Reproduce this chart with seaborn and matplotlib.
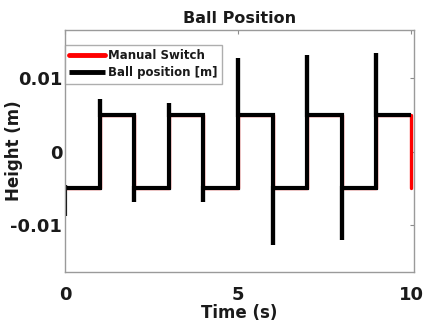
import matplotlib
matplotlib.use("Agg")
import matplotlib.pyplot as plt
import seaborn as sns
import pandas as pd

# Manual switch (square wave) - steps at integer seconds
manual_t = [0, 1, 2, 3, 4, 5, 6, 7, 8, 9, 10]
manual_y = [-0.005, 0.005, -0.005, 0.005, -0.005, 0.005, -0.005, 0.005, -0.005, 0.005, -0.005]

# Ball position with overshoot spikes at each switch
ball_t = [0, 0, 0, 1, 1, 1, 2, 2, 2, 3, 3, 3, 4, 4, 4,
          5, 5, 5, 6, 6, 6, 7, 7, 7, 8, 8, 8, 9, 9, 9, 10]
ball_y = [-0.0088, -0.0045, -0.005, -0.005, 0.0072, 0.005, 0.005, -0.0068, -0.005,
          -0.005, 0.0067, 0.005, 0.005, -0.0069, -0.005,
          -0.005, 0.0128, 0.005, 0.005, -0.0127, -0.005,
          -0.005, 0.0132, 0.005, 0.005, -0.0120, -0.005,
          -0.005, 0.0134, 0.005, 0.005]

x_ticks = [0, 5, 10]
x_labels = ["0", "5", "10"]
y_ticks = [-0.01, 0, 0.01]
y_labels = ["-0.01", "0", "0.01"]

sns.set_style("white")
plt.rcParams["font.family"] = ["DejaVu Sans"]
plt.rcParams["font.weight"] = "bold"
plt.rcParams["text.color"] = "#1a1a1a"
plt.rcParams["axes.labelcolor"] = "#1a1a1a"
plt.rcParams["xtick.labelcolor"] = "#1a1a1a"
plt.rcParams["ytick.labelcolor"] = "#1a1a1a"

fig = plt.figure(figsize=(4.25, 3.3), dpi=100)
ax = fig.add_axes([0.153, 0.176, 0.82, 0.733])

df_m = pd.DataFrame({"t": manual_t, "y": manual_y})
df_b = pd.DataFrame({"t": ball_t, "y": ball_y})

sns.lineplot(data=df_m, x="t", y="y", ax=ax, color="#ff0000", linewidth=2.4,
             drawstyle="steps-post", sort=False, estimator=None, label="Manual Switch")
sns.lineplot(data=df_b, x="t", y="y", ax=ax, color="black", linewidth=3.0,
             sort=False, estimator=None, label="Ball position [m]",
             solid_joinstyle="miter", solid_capstyle="butt")

ax.set_xlim(0, 10.07)
ax.set_ylim(-0.0164, 0.0166)
ax.set_xticks(x_ticks)
ax.set_xticklabels(x_labels, fontsize=13, fontweight="bold")
ax.set_yticks(y_ticks)
ax.set_yticklabels(y_labels, fontsize=13, fontweight="bold")
ax.tick_params(direction="in", length=3, color="#8c8c8c", top=True, right=True)
ax.tick_params(axis="x", pad=10)
ax.tick_params(axis="y", pad=2)
for s in ax.spines.values():
    s.set_color("#9a9a9a")
    s.set_linewidth(1.0)

ax.set_title("Ball Position", fontsize=11.5, fontweight="bold", pad=5)
ax.set_xlabel("Time (s)", fontsize=12, fontweight="bold", labelpad=0)
ax.set_ylabel("Height (m)", fontsize=12, fontweight="bold")
ax.yaxis.set_label_coords(-0.12, 0.5)

leg = ax.legend(loc="upper left", bbox_to_anchor=(0, 0.94), borderaxespad=0,
                fontsize=8.5, frameon=True, fancybox=False, handlelength=3.0,
                handletextpad=0.3, borderpad=0.35, labelspacing=0.4)
leg.get_frame().set_edgecolor("#9a9a9a")
leg.get_frame().set_linewidth(1.0)
for txt in leg.get_texts():
    txt.set_fontweight("bold")
for line in leg.get_lines():
    line.set_linewidth(3.5)

fig.savefig("out.png", dpi=100)
